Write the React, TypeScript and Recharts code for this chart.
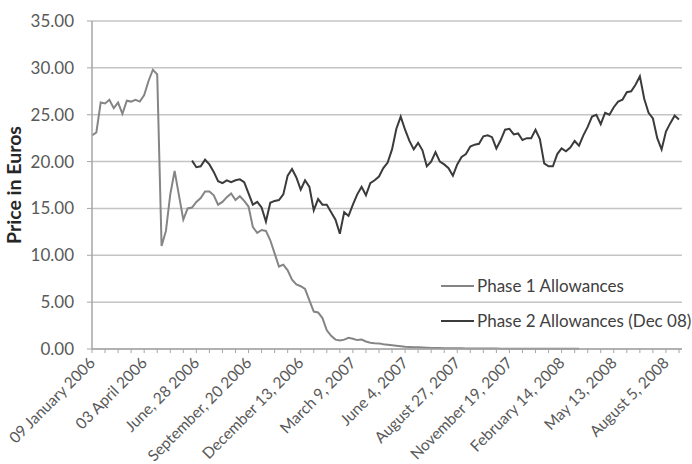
import { LineChart, Line, XAxis, YAxis, CartesianGrid } from 'recharts';

// weekly settlement prices, EUR/tonne
const PHASE1 = [
  22.8, 23.1, 26.3, 26.2, 26.6, 25.7, 26.3, 25.1, 26.5, 26.4,
  26.6, 26.4, 27.1, 28.6, 29.8, 29.3, 11.0, 12.6, 16.5, 19.0,
  16.4, 13.8, 15.0, 15.1, 15.7, 16.1, 16.8, 16.8, 16.4, 15.4,
  15.7, 16.2, 16.6, 15.9, 16.3, 15.8, 15.2, 13.0, 12.4, 12.7,
  12.6, 11.6, 10.2, 8.8, 9.0, 8.4, 7.4, 6.9, 6.7, 6.4,
  5.2, 4.0, 3.9, 3.3, 2.0, 1.4, 1.0, 0.9, 1.0, 1.2,
  1.1, 0.95, 1.0, 0.8, 0.67, 0.62, 0.6, 0.5, 0.45, 0.4,
  0.35, 0.3, 0.25, 0.22, 0.2, 0.18, 0.15, 0.13, 0.12, 0.1,
  0.1, 0.09, 0.08, 0.08, 0.07, 0.07, 0.06, 0.06, 0.06, 0.05,
  0.05, 0.06, 0.05, 0.05, 0.04, 0.04, 0.04, 0.03, 0.03, 0.03,
  0.03, 0.02, 0.02, 0.02, 0.02, 0.02, 0.02, 0.02, 0.02, 0.02,
  0.02, 0.02, 0.02,
];

// Dec 08 contract starts trading in week 23
const PHASE2_START = 23;
const PHASE2 = [
  20.1, 19.4, 19.5, 20.2, 19.7, 18.9, 17.9, 17.7, 18.0, 17.8,
  18.0, 18.1, 17.8, 16.6, 15.4, 15.7, 15.1, 13.6, 15.6, 15.8,
  15.9, 16.5, 18.5, 19.2, 18.3, 17.0, 18.0, 17.3, 14.8, 16.0,
  15.4, 15.4, 14.6, 13.8, 12.3, 14.6, 14.2, 15.4, 16.5, 17.3,
  16.4, 17.7, 18.0, 18.4, 19.3, 19.9, 21.3, 23.5, 24.8, 23.4,
  22.2, 21.3, 22.0, 21.2, 19.5, 20.0, 21.0, 20.0, 19.7, 19.3,
  18.5, 19.7, 20.5, 20.8, 21.6, 21.8, 21.9, 22.7, 22.8, 22.6,
  21.4, 22.3, 23.4, 23.5, 22.9, 23.0, 22.3, 22.5, 22.5, 23.4,
  22.4, 19.8, 19.5, 19.5, 20.8, 21.4, 21.1, 21.5, 22.2, 21.7,
  22.8, 23.7, 24.8, 25.0, 24.0, 25.2, 25.0, 25.8, 26.4, 26.6,
  27.4, 27.5, 28.2, 29.1, 26.7, 25.2, 24.6, 22.5, 21.3, 23.2,
  24.1, 24.9, 24.5,
];

// one label every 12 weeks
const TICK_LABELS = [
  '09 January 2006', '03 April 2006', 'June, 28 2006', 'September, 20 2006',
  'December 13, 2006', 'March 9, 2007', 'June 4, 2007', 'August 27, 2007',
  'November 19, 2007', 'February 14, 2008', 'May 13, 2008', 'August 5, 2008',
];
const Y_TICKS = [0, 5, 10, 15, 20, 25, 30, 35];
const SERIES = ['Phase 1 Allowances', 'Phase 2 Allowances (Dec 08)'];
const COLORS = ['#858585', '#3b3b3b'];

const N_WEEKS = PHASE2_START + PHASE2.length;

const rows = Array.from({ length: N_WEEKS }, (_, i) => ({
  week: i,
  p1: i < PHASE1.length ? PHASE1[i] : null,
  p2: i >= PHASE2_START ? PHASE2[i - PHASE2_START] : null,
}));

const FONT = 'Lato, "Noto Sans", sans-serif';

function DateTick(props: any) {
  const { x, y, payload } = props;
  const w = payload.value as number;
  if (w % 12 !== 0) return <g />;
  return (
    <g transform={`translate(${x + 4},${y + 9}) rotate(-45)`}>
      <text x={0} y={0} textAnchor="end" fill="#595959" fontSize={15.5} fontFamily={FONT}>
        {TICK_LABELS[w / 12]}
      </text>
    </g>
  );
}

export default function App() {
  return (
    <div style={{ position: 'absolute', left: 0, top: 0, width: 692, height: 464, background: '#fff', fontFamily: FONT }}>
      <LineChart width={692} height={464} data={rows} margin={{ top: 21, right: 10, bottom: 0, left: 0 }}>
        <CartesianGrid vertical={false} stroke="#c4c4c4" strokeWidth={1.5} />
        <XAxis
          dataKey="week"
          type="category"
          interval={2}
          tick={<DateTick />}
          tickSize={4}
          tickLine={{ stroke: '#a6a6a6' }}
          axisLine={{ stroke: '#a6a6a6', strokeWidth: 1.5 }}
          height={115}
          padding={{ left: 0, right: 3 }}
        />
        <YAxis
          domain={[0, 35]}
          ticks={Y_TICKS}
          tickFormatter={(v: number) => v.toFixed(2)}
          width={92}
          tickSize={5}
          tickMargin={13}
          tickLine={{ stroke: '#a6a6a6' }}
          axisLine={{ stroke: '#a6a6a6', strokeWidth: 1.5 }}
          tick={{ fill: '#595959', fontSize: 17, fontFamily: FONT }}
          label={{
            value: 'Price in Euros',
            angle: -90,
            position: 'insideLeft',
            offset: 14,
            style: { textAnchor: 'middle', fontWeight: 700, fontSize: 19.5, fill: '#262626', fontFamily: FONT },
          }}
        />
        <Line dataKey="p1" stroke={COLORS[0]} strokeWidth={2} dot={false} isAnimationActive={false} />
        <Line dataKey="p2" stroke={COLORS[1]} strokeWidth={2} dot={false} isAnimationActive={false} />
      </LineChart>
      <div style={{ position: 'absolute', left: 441, top: 268 }}>
        {SERIES.map((name, i) => (
          <div key={name} style={{ display: 'flex', alignItems: 'center', height: 35 }}>
            <div style={{ width: 33, height: 2, background: COLORS[i], marginRight: 3 }} />
            <span style={{ fontSize: 17, color: '#404040', whiteSpace: 'nowrap' }}>{name}</span>
          </div>
        ))}
      </div>
    </div>
  );
}
